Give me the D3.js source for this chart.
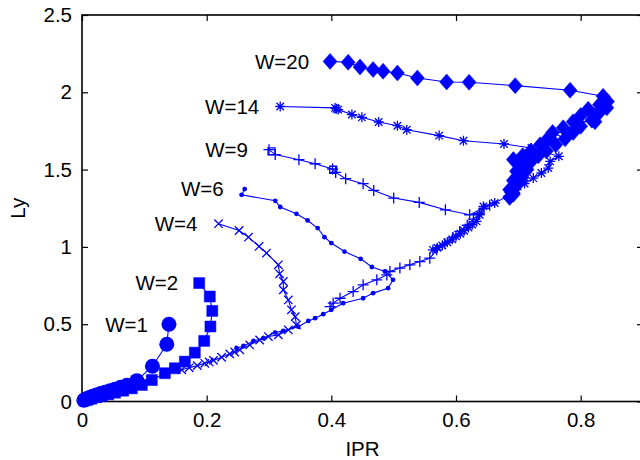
<!DOCTYPE html>
<html>
<head>
<meta charset="utf-8">
<script src="https://cdn.jsdelivr.net/npm/d3@7"></script>
<style>
  body { margin: 0; background: #fff; }
  text { font-family: "Liberation Sans", Arial, Helvetica, sans-serif; }
</style>
</head>
<body>
<div id="chart"></div>
<script>
// series values: [IPR, Ly]
var w1 = [[0.1395,0.5],[0.136,0.37],[0.113,0.228],[0.088,0.135],[0.072,0.105],[0.062,0.092],[0.053,0.08],
  [0.045,0.07],[0.037,0.06],[0.03,0.051],[0.023,0.042],[0.017,0.034],[0.012,0.026],[0.008,0.019],
  [0.005,0.013],[0.003,0.008]];
var w2 = [[0.188,0.766],[0.205,0.679],[0.209,0.586],[0.206,0.485],[0.196,0.392],[0.181,0.316],[0.165,0.258],
  [0.149,0.215],[0.133,0.183],[0.112,0.139],[0.096,0.107],[0.08,0.085],[0.066,0.07],[0.053,0.057],
  [0.042,0.046],[0.032,0.036],[0.023,0.027],[0.015,0.018],[0.009,0.011],[0.004,0.006]];
var w4 = [[0.219,1.15],[0.252,1.106],[0.267,1.063],[0.284,1.003],[0.296,0.96],[0.315,0.884],[0.317,0.826],
  [0.323,0.776],[0.323,0.722],[0.331,0.657],[0.336,0.593],[0.342,0.549],[0.344,0.495],[0.331,0.463],
  [0.315,0.431],[0.299,0.42],[0.285,0.398],[0.269,0.366],[0.253,0.334],[0.245,0.32],[0.237,0.308],
  [0.224,0.286],[0.211,0.266],[0.204,0.256],[0.197,0.247],[0.185,0.232],[0.172,0.218],[0.16,0.205]];
var w6 = [[0.261,1.374],[0.256,1.337],[0.31,1.298],[0.318,1.258],[0.344,1.214],[0.362,1.171],[0.378,1.122],
  [0.389,1.063],[0.4,1.025],[0.421,0.97],[0.447,0.923],[0.465,0.87],[0.486,0.841],[0.499,0.787],
  [0.491,0.733],[0.467,0.701],[0.451,0.668],[0.419,0.636],[0.4,0.593],[0.387,0.565],[0.374,0.539],
  [0.363,0.521],[0.347,0.484],[0.323,0.457],[0.31,0.446],[0.291,0.409],[0.275,0.392],[0.259,0.359],
  [0.248,0.345]];
var w9 = [[0.3,1.629],[0.31,1.597],[0.348,1.564],[0.374,1.538],[0.402,1.504],[0.407,1.482],[0.423,1.441],
  [0.451,1.409],[0.468,1.365],[0.5,1.316],[0.541,1.288],[0.583,1.24],[0.622,1.208],[0.654,1.27],
  [0.645,1.25],[0.637,1.215],[0.628,1.18],[0.618,1.14],[0.606,1.1],[0.595,1.06],[0.582,1.02],
  [0.569,0.981],[0.558,0.927],[0.542,0.905],[0.526,0.884],[0.51,0.863],[0.494,0.841],[0.489,0.819],
  [0.473,0.787],[0.451,0.755],[0.435,0.711],[0.414,0.668],[0.403,0.636],[0.398,0.614]];
var w9Boxes = [[0.304,1.618],[0.403,1.499]];
var w14 = [[0.318,1.908],[0.406,1.899],[0.408,1.893],[0.411,1.888],[0.433,1.856],[0.449,1.838],[0.476,1.808],
  [0.506,1.784],[0.521,1.758],[0.573,1.72],[0.612,1.687],[0.677,1.666],[0.721,1.64],[0.765,1.586],
  [0.751,1.553],[0.748,1.51],[0.737,1.478],[0.724,1.445],[0.71,1.41],[0.697,1.37],[0.684,1.33],
  [0.662,1.284],[0.644,1.262],[0.638,1.208],[0.633,1.165],[0.626,1.145],[0.62,1.125],[0.613,1.105],
  [0.607,1.085],[0.6,1.068],[0.594,1.05],[0.586,1.03],[0.578,1.01],[0.57,0.995],[0.563,0.981]];
var w20 = [[0.398,2.2],[0.427,2.194],[0.446,2.164],[0.467,2.147],[0.483,2.136],[0.506,2.125],[0.538,2.093],
  [0.585,2.067],[0.621,2.065],[0.695,2.043],[0.783,2.013],[0.836,1.974],[0.843,1.94],
  [0.83,1.92],[0.842,1.9],[0.812,1.89],[0.83,1.87],[0.8,1.85],[0.818,1.82],[0.823,1.81],[0.788,1.81],
  [0.8,1.78],[0.772,1.77],[0.788,1.74],[0.755,1.74],[0.775,1.7],[0.745,1.69],[0.76,1.66],[0.735,1.66],
  [0.745,1.62],[0.72,1.62],[0.732,1.59],[0.707,1.59],[0.692,1.565],[0.72,1.55],[0.7,1.54],[0.714,1.5],
  [0.697,1.49],[0.706,1.45],[0.692,1.43],[0.698,1.4],[0.686,1.37],[0.692,1.34],[0.686,1.32]];

var names = ["W=1", "W=2", "W=4", "W=6", "W=9", "W=14", "W=20"];
var series = [w1, w2, w4, w6, w9, w14, w20];
var markers = ["circle", "square", "cross", "dot", "plus", "star", "diamond"];
var xTicks = [0, 0.2, 0.4, 0.6, 0.8];
var yTicks = [0, 0.5, 1, 1.5, 2, 2.5];

var blue = "#0000ff";
var W = 640, H = 460;
var margin = {top: 15, right: -3, bottom: 58.5, left: 82};
var width = W - margin.left - margin.right,
    height = H - margin.top - margin.bottom;

var svg = d3.select("#chart").append("svg")
    .attr("width", W).attr("height", H)
  .append("g")
    .attr("transform", "translate(" + margin.left + "," + margin.top + ")");

var x = d3.scaleLinear().domain([0, 0.9]).range([0, width]);
var y = d3.scaleLinear().domain([0, 2.5]).range([height, 0]);
var fmt = d3.format("~g");

// axes with inward ticks, mirrored on top and right
svg.append("g").attr("transform", "translate(0," + height + ")")
  .call(d3.axisBottom(x).tickValues(xTicks).tickFormat(fmt).tickSizeInner(-6).tickSizeOuter(0).tickPadding(11));
svg.append("g")
  .call(d3.axisLeft(y).tickValues(yTicks).tickFormat(fmt).tickSizeInner(-6).tickSizeOuter(0).tickPadding(10));
svg.append("g")
  .call(d3.axisTop(x).tickValues(xTicks).tickFormat("").tickSizeInner(-6).tickSizeOuter(0));
svg.append("g").attr("transform", "translate(" + width + ",0)")
  .call(d3.axisRight(y).tickValues(yTicks).tickFormat("").tickSizeInner(-6).tickSizeOuter(0));
svg.selectAll(".domain").remove();
svg.selectAll(".tick line").attr("stroke", "#000").attr("stroke-width", 1.2);
svg.selectAll(".tick text").attr("font-size", 20.5).attr("fill", "#000")
  .style("font-family", "'Liberation Sans', Arial, sans-serif");

svg.append("rect")
  .attr("width", width).attr("height", height)
  .attr("fill", "none").attr("stroke", "#000").attr("stroke-width", 1.6);

svg.append("text")
  .attr("transform", "translate(-57," + (height / 2) + ") rotate(-90)")
  .attr("text-anchor", "middle")
  .attr("font-size", 20.5)
  .text("Ly");
svg.append("text")
  .attr("x", width / 2).attr("y", height + 54)
  .attr("text-anchor", "middle")
  .attr("font-size", 20.5)
  .text("IPR");

var line = d3.line().x(function(d) { return x(d[0]); }).y(function(d) { return y(d[1]); });

function drawMarkers(g, pts, type) {
  var sel = g.selectAll("m").data(pts).enter();
  if (type == "circle" || type == "dot") {
    sel.append("circle")
      .attr("cx", function(d) { return x(d[0]); })
      .attr("cy", function(d) { return y(d[1]); })
      .attr("r", type == "circle" ? 7.5 : 2.4)
      .attr("fill", blue);
    return;
  }
  var path = function(d) {
    var px = x(d[0]), py = y(d[1]);
    if (type == "square") {
      var s = 5.5;
      return "M" + (px - s) + "," + (py - s) + "h" + 2 * s + "v" + 2 * s + "h" + -2 * s + "Z";
    }
    if (type == "box") {
      var b = 3.5;
      return "M" + (px - b) + "," + (py - b) + "h" + 2 * b + "v" + 2 * b + "h" + -2 * b + "Z";
    }
    if (type == "diamond") {
      return "M" + px + "," + (py - 8) + "L" + (px + 7) + "," + py + "L" + px + "," + (py + 8) + "L" + (px - 7) + "," + py + "Z";
    }
    var c = 4.2, p = 5.5, st = 5;
    if (type == "cross")
      return "M" + (px - c) + "," + (py - c) + "L" + (px + c) + "," + (py + c) + "M" + (px - c) + "," + (py + c) + "L" + (px + c) + "," + (py - c);
    if (type == "plus")
      return "M" + (px - p) + "," + py + "H" + (px + p) + "M" + px + "," + (py - p) + "V" + (py + p);
    // star: plus and cross together
    var k = st * 0.75;
    return "M" + (px - st) + "," + py + "H" + (px + st) + "M" + px + "," + (py - st) + "V" + (py + st) +
      "M" + (px - k) + "," + (py - k) + "L" + (px + k) + "," + (py + k) + "M" + (px - k) + "," + (py + k) + "L" + (px + k) + "," + (py - k);
  };
  var filled = (type == "square" || type == "diamond");
  sel.append("path")
    .attr("d", path)
    .attr("fill", filled ? blue : "none")
    .attr("stroke", blue)
    .attr("stroke-width", filled ? 0.5 : 1.3);
}

series.forEach(function(pts, i) {
  var g = svg.append("g");
  g.append("path")
    .datum(pts)
    .attr("d", line)
    .attr("fill", "none")
    .attr("stroke", blue)
    .attr("stroke-width", 1.1);
  drawMarkers(g, pts, markers[i]);
  if (i == 4) drawMarkers(g, w9Boxes, "box");

  // label to the left of the first point
  svg.append("text")
    .attr("x", x(pts[0][0]) - 21)
    .attr("y", y(pts[0][1]))
    .attr("dy", "0.36em")
    .attr("text-anchor", "end")
    .attr("font-size", 20.5)
    .attr("fill", "#000")
    .text(names[i]);
});
</script>
</body>
</html>
